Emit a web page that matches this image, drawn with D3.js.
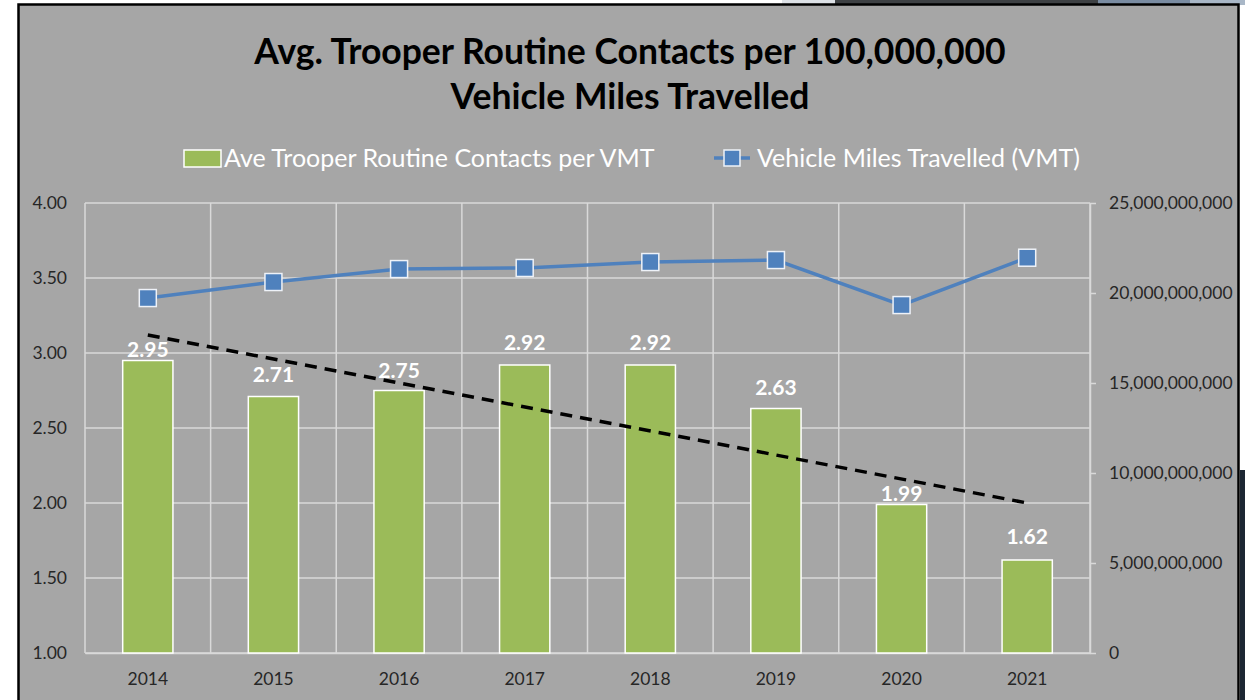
<!DOCTYPE html>
<html lang="en">
<head>
<meta charset="utf-8">
<title>Avg. Trooper Routine Contacts per 100,000,000 Vehicle Miles Travelled</title>
<script src="https://cdn.jsdelivr.net/npm/d3@7"></script>
<style>
  body { margin: 0; background: #ffffff; }
  svg text { font-family: Lato, "Open Sans", sans-serif; }
  .axis text { fill: #262626; font-size: 17.5px; }
  .axis .domain { stroke: #d9d9d9; stroke-width: 1.5; }
  .axis line { stroke: #d9d9d9; stroke-width: 1.5; }
</style>
</head>
<body>
<script>
// chart data
var years = ["2014", "2015", "2016", "2017", "2018", "2019", "2020", "2021"];
var contacts = [2.95, 2.71, 2.75, 2.92, 2.92, 2.63, 1.99, 1.62];
var vmt = [19.72e9, 20.61e9, 21.33e9, 21.39e9, 21.72e9, 21.83e9, 19.33e9, 21.96e9];
var trendYears = ["2014", "2021"];
var trendValues = [3.12, 2.00];
var leftTicks = [1.00, 1.50, 2.00, 2.50, 3.00, 3.50, 4.00];
var rightTicks = [0, 5e9, 10e9, 15e9, 20e9, 25e9];
var titleLines = ["Avg. Trooper Routine Contacts per 100,000,000", "Vehicle Miles Travelled"];
var legendLabels = ["Ave Trooper Routine Contacts per VMT", "Vehicle Miles Travelled (VMT)"];

var width = 1245, height = 700;
var plot = {left: 85, right: 1090, top: 203, bottom: 653};

var svg = d3.select("body").append("svg").attr("width", width).attr("height", height);

// screenshot strip above the frame
var strip = svg.append("g");
strip.append("rect").attr("x", 782).attr("y", 0).attr("width", 53).attr("height", 5).attr("fill", "#dde1e6");
strip.append("rect").attr("x", 835).attr("y", 0).attr("width", 263).attr("height", 5).attr("fill", "#3e4144");
strip.append("rect").attr("x", 1098).attr("y", 0).attr("width", 92).attr("height", 5).attr("fill", "#7a8ca2");
strip.append("rect").attr("x", 1190).attr("y", 0).attr("width", 55).attr("height", 5).attr("fill", "#a9b7c7");
strip.append("rect").attr("x", 1240).attr("y", 470).attr("width", 5).attr("height", 230).attr("fill", "#1d2733");

// chart frame
svg.append("rect")
    .attr("x", 18.5).attr("y", 4.5)
    .attr("width", 1220).attr("height", 720)
    .attr("fill", "#a6a6a6")
    .attr("stroke", "#000").attr("stroke-width", 2.5);

// scales
var x = d3.scaleBand().domain(years).range([plot.left, plot.right]).padding(0);
var yL = d3.scaleLinear().domain([1, 4]).range([plot.bottom, plot.top]);
var yR = d3.scaleLinear().domain([0, 25e9]).range([plot.bottom, plot.top]);
var cx = function(d) { return x(d) + x.bandwidth() / 2; };

// gridlines
var grid = svg.append("g").attr("stroke", "#d9d9d9").attr("stroke-width", 1.5);
grid.selectAll(".h").data(leftTicks).enter().append("line")
    .attr("x1", plot.left).attr("x2", plot.right)
    .attr("y1", function(d) { return yL(d); }).attr("y2", function(d) { return yL(d); });
grid.selectAll(".v").data(years.concat(["end"])).enter().append("line")
    .attr("x1", function(d, i) { return plot.left + i * x.bandwidth(); })
    .attr("x2", function(d, i) { return plot.left + i * x.bandwidth(); })
    .attr("y1", plot.top).attr("y2", plot.bottom);

// axes
svg.append("g").attr("class", "axis")
    .attr("transform", "translate(" + plot.left + ",0)")
    .call(d3.axisLeft(yL).tickValues(leftTicks).tickFormat(d3.format(".2f")).tickSize(0).tickPadding(18))
    .call(function(g) { g.select(".domain").remove(); });

svg.append("g").attr("class", "axis")
    .attr("transform", "translate(" + plot.right + ",0)")
    .call(d3.axisRight(yR).tickValues(rightTicks).tickFormat(d3.format(",")).tickSize(6).tickSizeOuter(0).tickPadding(13));

svg.append("g").attr("class", "axis")
    .attr("transform", "translate(0," + plot.bottom + ")")
    .call(d3.axisBottom(x).tickSize(0).tickSizeOuter(0).tickPadding(20));

// bars
svg.selectAll(".bar").data(contacts).enter().append("rect")
    .attr("class", "bar")
    .attr("x", function(d, i) { return x(years[i]) + x.bandwidth() * 0.3; })
    .attr("y", function(d) { return yL(d); })
    .attr("width", x.bandwidth() * 0.4)
    .attr("height", function(d) { return yL(1) - yL(d); })
    .attr("fill", "#9bbb59")
    .attr("stroke", "#fff").attr("stroke-width", 1.5);

// bar labels (two were nudged down in the original)
var labelLift = [4, 15, 13, 15, 15, 14, 4, 16];
svg.selectAll(".blabel").data(contacts).enter().append("text")
    .attr("x", function(d, i) { return cx(years[i]); })
    .attr("y", function(d, i) { return yL(d) - labelLift[i]; })
    .attr("text-anchor", "middle")
    .style("font-size", "21px").style("font-weight", "bold")
    .style("fill", "#fff")
    .text(function(d) { return d3.format(".2f")(d); });

// trend line
svg.append("path")
    .datum(trendValues)
    .attr("fill", "none").attr("stroke", "#000")
    .attr("stroke-width", 3.5).attr("stroke-dasharray", "12,8")
    .attr("d", d3.line().x(function(d, i) { return cx(trendYears[i]); }).y(function(d) { return yL(d); }));

// VMT line
svg.append("path")
    .datum(vmt)
    .attr("fill", "none").attr("stroke", "#4f81bd").attr("stroke-width", 3.5)
    .attr("d", d3.line().x(function(d, i) { return cx(years[i]); }).y(function(d) { return yR(d); }));

svg.selectAll(".mark").data(vmt).enter().append("rect")
    .attr("x", function(d, i) { return cx(years[i]) - 8.5; })
    .attr("y", function(d) { return yR(d) - 8.5; })
    .attr("width", 17).attr("height", 17)
    .attr("fill", "#4f81bd").attr("stroke", "#eef2f8").attr("stroke-width", 1.5);

// title
svg.selectAll(".title").data(titleLines).enter().append("text")
    .attr("x", 630).attr("y", function(d, i) { return 64 + i * 45; })
    .attr("text-anchor", "middle")
    .style("font-size", "35.5px").style("font-weight", "bold").style("fill", "#000")
    .text(function(d) { return d; });

// legend
var leg = svg.append("g").style("font-size", "25px").style("fill", "#fff");
leg.append("rect").attr("x", 184).attr("y", 150).attr("width", 37).attr("height", 17)
    .attr("fill", "#9bbb59").attr("stroke", "#fff").attr("stroke-width", 1.5);
leg.append("text").attr("x", 224).attr("y", 167).text(legendLabels[0]);
leg.append("line").attr("x1", 714).attr("x2", 750).attr("y1", 158).attr("y2", 158)
    .attr("stroke", "#4f81bd").attr("stroke-width", 3.5);
leg.append("rect").attr("x", 724).attr("y", 150).attr("width", 16).attr("height", 16)
    .attr("fill", "#4f81bd").attr("stroke", "#eef2f8").attr("stroke-width", 1.5);
leg.append("text").attr("x", 757).attr("y", 167).text(legendLabels[1]);
</script>
</body>
</html>
